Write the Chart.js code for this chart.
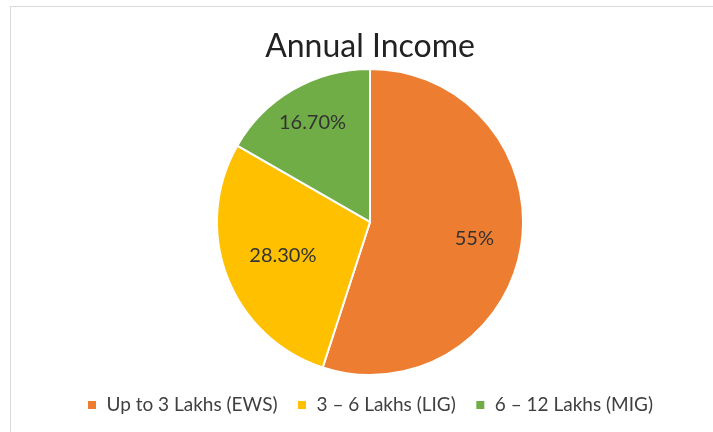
<!DOCTYPE html>
<html>
<head>
<meta charset="utf-8">
<script src="https://cdn.jsdelivr.net/npm/chart.js@4/dist/chart.umd.min.js"></script>
<style>
  html, body { margin: 0; padding: 0; background: #fff; }
  #wrap { position: relative; width: 713px; height: 432px; }
  #frame { position: absolute; left: 10px; top: 6px; right: 0; bottom: 0;
           border-top: 1px solid #d9d9d9; border-left: 1px solid #d9d9d9; pointer-events: none; }
  canvas { position: absolute; left: 0; top: 0; }
</style>
</head>
<body>
<div id="wrap">
  <canvas id="c" width="713" height="432"></canvas>
  <div id="frame"></div>
</div>
<script>
const categories = ['Up to 3 Lakhs (EWS)', '3 – 6 Lakhs (LIG)', '6 – 12 Lakhs (MIG)'];
const shares = [55, 28.3, 16.7];
const colors = ['#ED7D31', '#FFC000', '#70AD47'];
// how far out from the centre each percentage sits, as a fraction of the radius
const labelDepth = [0.69, 0.61, 0.75];

const FONT = 'Lato, "Liberation Sans", sans-serif';

function fmtPct(v) {
  return Number.isInteger(v) ? v + '%' : v.toFixed(2) + '%';
}

const sliceLabels = {
  id: 'sliceLabels',
  afterDatasetsDraw(chart) {
    const ctx = chart.ctx;
    const meta = chart.getDatasetMeta(0);
    ctx.save();
    ctx.font = '20px ' + FONT;
    ctx.fillStyle = '#333333';
    ctx.textAlign = 'center';
    ctx.textBaseline = 'middle';
    meta.data.forEach((arc, i) => {
      const p = arc.getProps(['x', 'y', 'startAngle', 'endAngle', 'outerRadius']);
      const mid = (p.startAngle + p.endAngle) / 2;
      const r = p.outerRadius * labelDepth[i];
      ctx.fillText(fmtPct(shares[i]), p.x + Math.cos(mid) * r, p.y + Math.sin(mid) * r);
    });
    ctx.restore();
  }
};

new Chart(document.getElementById('c'), {
  type: 'pie',
  data: {
    labels: categories,
    datasets: [{
      data: shares,
      backgroundColor: colors,
      borderColor: '#ffffff',
      borderWidth: 2
    }]
  },
  options: {
    responsive: false,
    animation: false,
    layout: { padding: { top: 0, bottom: 7.5, left: 27, right: 0 } },
    plugins: {
      title: {
        display: true,
        text: 'Annual Income',
        color: '#222222',
        font: { family: FONT, size: 32, weight: 'normal' },
        padding: { top: 27, bottom: 2.5 }
      },
      legend: {
        position: 'bottom',
        labels: {
          color: '#404040',
          font: { family: FONT, size: 19 },
          boxWidth: 10,
          boxHeight: 10,
          padding: 19.5
        }
      },
      tooltip: { enabled: false }
    }
  },
  plugins: [sliceLabels]
});
</script>
</body>
</html>
